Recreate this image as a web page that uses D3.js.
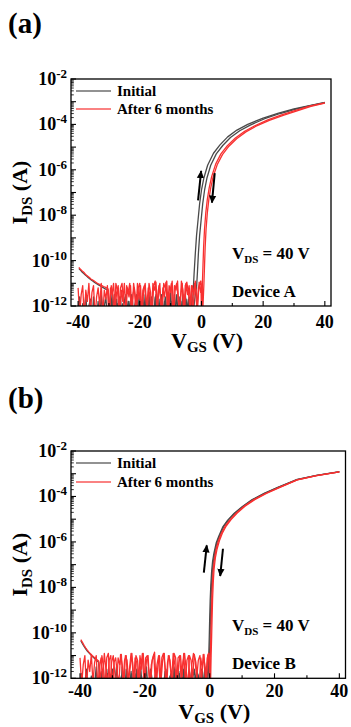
<!DOCTYPE html>
<html>
<head>
<meta charset="utf-8">
<script src="https://cdn.jsdelivr.net/npm/d3@7"></script>
<style>
  body { margin: 0; background: #fff; }
  svg { display: block; font-family: 'Liberation Serif', 'Times New Roman', serif; font-weight: bold; }
</style>
</head>
<body>
<svg id="chart" width="351" height="727"></svg>
<script>
// gate sweep grids in the off state (V)
const VG_FWD_OFF = [-40, -39.5, -39, -38.5, -38, -37.5, -37, -36.5, -36, -35.5, -35, -34.5, -34, -33.5, -33, -32.5, -32, -31.5, -31, -30.5,
  -30, -29.5, -29, -28.5, -28, -27.5, -27, -26.5, -26, -25.5, -25, -24.5, -24, -23.5, -23, -22.5, -22, -21.5, -21, -20.5,
  -20, -19.5, -19, -18.5, -18, -17.5, -17, -16.5, -16, -15.5, -15, -14.5, -14, -13.5, -13, -12.5, -12, -11.5, -11, -10.5,
  -10, -9.5, -9, -8.5, -8, -7.5, -7, -6.5, -6, -5.5, -5, -4.5, -4];
const VG_REV_OFF = [-39.75, -39.25, -38.75, -38.25, -37.75, -37.25, -36.75, -36.25, -35.75, -35.25, -34.75, -34.25, -33.75, -33.25, -32.75, -32.25, -31.75, -31.25, -30.75, -30.25,
  -29.75, -29.25, -28.75, -28.25, -27.75, -27.25, -26.75, -26.25, -25.75, -25.25, -24.75, -24.25, -23.75, -23.25, -22.75, -22.25, -21.75, -21.25, -20.75, -20.25,
  -19.75, -19.25, -18.75, -18.25, -17.75, -17.25, -16.75, -16.25, -15.75, -15.25, -14.75, -14.25, -13.75, -13.25, -12.75, -12.25, -11.75, -11.25, -10.75, -10.25,
  -9.75, -9.25, -8.75, -8.25, -7.75, -7.25, -6.75, -6.25, -5.75, -5.25, -4.75, -4.25, -3.75];

const Y_TICKS = [-12, -10, -8, -6, -4, -2]; // log10(I) labels
const X_TICKS = [-40, -20, 0, 20, 40];
const LEGEND = ['Initial', 'After 6 months'];

// ---- device A, log10(IDS / A) ----
const A_INIT_FWD_OFF = [-12.4, -11.6, -12.7, -11.9, -12.3, -11.5, -12.6, -12.0, -11.7, -12.8,
  -11.6, -12.2, -12.5, -11.8, -12.7, -11.5, -12.3, -12.0, -11.6, -12.6,
  -11.9, -12.4, -11.5, -12.8, -12.1, -11.7, -12.5, -11.6, -12.3, -11.9,
  -12.7, -11.5, -12.2, -11.8, -12.6, -11.6, -12.4, -12.0, -11.5, -12.7,
  -11.8, -12.3, -11.6, -12.5, -11.9, -12.8, -11.5, -12.2, -11.7, -12.6,
  -11.6, -12.4, -11.9, -12.7, -11.5, -12.3, -11.8, -12.5, -11.6, -12.2,
  -11.4, -12.6, -11.8, -12.3, -11.5, -12.7, -11.9, -12.1, -11.5, -12.5,
  -11.7, -12.4, -11.6];
const A_INIT_REV_OFF = [-10.35, -10.42, -10.5, -10.56, -10.62, -10.68, -10.74, -10.8, -10.85, -10.9,
  -10.95, -11.0, -11.04, -11.08, -11.12, -11.16, -11.2, -11.24, -11.28, -11.32,
  -12.5, -11.7, -12.2, -11.5, -12.7, -11.9, -12.4, -11.6, -12.8, -12.0,
  -11.6, -12.5, -11.8, -12.3, -11.5, -12.6, -12.1, -11.7, -12.7, -11.6,
  -12.3, -11.9, -12.5, -11.5, -12.8, -11.8, -12.2, -11.6, -12.6, -12.0,
  -11.5, -12.4, -11.7, -12.7, -11.9, -12.3, -11.6, -12.5, -11.4, -12.2,
  -11.8, -12.6, -11.5, -12.3, -12.0, -11.6, -12.7, -11.8, -12.4, -11.5,
  -12.2, -11.7, -12.5];
const A_AGED_FWD_OFF = [-11.2, -12.4, -11.5, -11.1, -12.6, -11.3, -11.8, -11.0, -12.3, -11.4,
  -11.1, -12.5, -11.6, -11.2, -12.0, -11.0, -12.4, -11.3, -11.7, -11.1,
  -12.6, -11.2, -11.5, -11.0, -12.2, -11.4, -11.1, -12.5, -11.3, -11.8,
  -11.0, -12.3, -11.2, -11.6, -11.1, -12.4, -11.0, -11.5, -12.1, -11.2,
  -11.0, -12.6, -11.3, -11.1, -11.7, -12.2, -11.0, -11.4, -12.5, -11.1,
  -10.9, -12.0, -11.3, -11.0, -12.4, -11.2, -11.6, -10.95, -12.3, -11.1,
  -11.4, -10.9, -12.5, -11.2, -11.0, -11.8, -12.2, -10.9, -11.3, -12.4,
  -11.0, -11.5, -11.1];
const A_AGED_REV_OFF = [-10.3, -10.38, -10.45, -10.5, -10.58, -10.65, -10.7, -10.76, -10.82, -10.86,
  -10.9, -10.95, -11.0, -11.03, -11.07, -11.1, -11.14, -11.17, -11.2, -11.25,
  -12.3, -11.1, -11.6, -12.5, -11.0, -11.3, -12.2, -11.2, -11.0, -11.9,
  -12.6, -11.1, -11.4, -11.0, -12.3, -11.5, -11.2, -12.4, -11.0, -11.7,
  -11.1, -12.5, -11.3, -11.0, -12.1, -11.2, -11.5, -12.6, -11.0, -11.3,
  -10.95, -12.2, -11.1, -11.6, -12.4, -11.0, -11.2, -10.9, -12.3, -11.4,
  -11.0, -12.5, -11.1, -11.3, -10.9, -12.2, -11.6, -11.0, -12.4, -11.1,
  -10.95, -11.4, -12.1];

const A_INIT_FWD_ON = [[-3.5, -11.9], [-3, -12.2], [-2.7, -11.4], [-2.4, -10.6], [-2.0, -9.7], [-1.6, -8.9], [-1.1, -8.2], [-0.6, -7.5], [0, -6.9], [0.8, -6.35], [2, -5.8], [3.9, -5.27], [6, -4.9], [8.5, -4.55], [11.5, -4.25], [15, -4.0], [20, -3.72], [25, -3.5], [30, -3.32], [35, -3.17], [40, -3.03]];
const A_INIT_REV_ON = [[-3.25, -11.6], [-2.75, -12.4], [-2.25, -11.8], [-2, -11.5], [-1.6, -11.2], [-1.3, -10.5], [-1.0, -9.7], [-0.6, -8.9], [-0.1, -8.2], [0.4, -7.5], [1.0, -6.9], [1.8, -6.35], [3.0, -5.8], [4.8, -5.3], [6.9, -4.93], [9.4, -4.58], [12.4, -4.28], [15.8, -4.03], [20.5, -3.75], [25.5, -3.52], [30.3, -3.34], [35, -3.18], [40, -3.04]];
const A_AGED_FWD_ON = [[-3.5, -12.1], [-3, -11.1], [-2.5, -11.5], [-2, -10.9], [-1.5, -12.2], [-1, -11.2], [-0.5, -11.0], [-0.2, -10.9], [0, -12.3], [0.3, -11.0], [0.5, -10.2], [0.7, -9.4], [1.0, -8.6], [1.4, -7.9], [1.9, -7.3], [2.5, -6.8], [3.3, -6.3], [4.6, -5.75], [6.3, -5.3], [8.4, -4.94], [11, -4.6], [14, -4.3], [17.3, -4.06], [21.5, -3.8], [26, -3.58], [30.5, -3.38], [35, -3.2], [40, -3.05]];
const A_AGED_REV_ON = [[-3.25, -11.1], [-2.75, -12.4], [-2.25, -11.0], [-1.75, -11.3], [-1.25, -12.1], [-0.75, -10.95], [-0.25, -11.4], [0.2, -11.0], [0.4, -12.3], [0.8, -11.0], [1.0, -10.2], [1.2, -9.4], [1.5, -8.6], [1.9, -7.9], [2.4, -7.3], [3.0, -6.8], [3.8, -6.3], [5.1, -5.78], [6.8, -5.33], [8.9, -4.96], [11.4, -4.63], [14.4, -4.33], [17.7, -4.08], [22, -3.82], [26.5, -3.6], [31, -3.4], [35.5, -3.21], [40, -3.06]];

// ---- device B ----
const B_INIT_FWD_OFF = [-12.6, -11.8, -12.8, -12.2, -11.6, -12.9, -12.4, -11.9, -12.7, -12.3,
  -11.5, -12.8, -12.1, -12.6, -11.7, -12.9, -12.3, -11.8, -12.5, -12.8,
  -11.6, -12.4, -12.7, -11.9, -12.2, -12.8, -11.5, -12.6, -12.3, -11.7,
  -12.9, -12.2, -11.8, -12.6, -12.4, -11.6, -12.8, -12.1, -11.9, -12.7,
  -12.3, -11.5, -12.6, -12.9, -11.8, -12.4, -12.2, -11.6, -12.7, -12.5,
  -11.7, -12.8, -12.0, -11.6, -12.6, -12.3, -11.8, -12.9, -11.5, -12.4,
  -12.1, -11.7, -12.7, -12.2, -11.6, -12.5, -12.8, -11.8, -12.3, -11.6,
  -12.6, -12.0, -11.7];
const B_INIT_REV_OFF = [-10.35, -10.48, -10.6, -10.7, -10.8, -10.88, -10.96, -11.03, -11.1, -11.16, -11.22, -11.3,
  -12.5, -11.7, -12.8, -12.1, -11.6, -12.6, -12.3, -11.8, -12.9, -12.2,
  -11.5, -12.7, -12.4, -11.9, -12.6, -12.8, -11.6, -12.3, -12.5, -11.7,
  -12.9, -12.1, -11.8, -12.6, -12.4, -11.5, -12.7, -12.2, -11.9, -12.8,
  -12.3, -11.6, -12.5, -12.7, -11.8, -12.2, -12.9, -11.6, -12.4, -12.6,
  -11.7, -12.3, -12.8, -11.9, -12.5, -12.1, -11.6, -12.7, -12.4, -11.8,
  -12.6, -12.2, -11.5, -12.8, -12.3, -11.7, -12.5, -12.0, -11.6, -12.4,
  -11.8];
const B_AGED_FWD_OFF = [-11.1, -12.3, -11.4, -11.0, -12.5, -11.2, -11.7, -10.95, -12.2, -11.3,
  -11.0, -12.4, -11.5, -11.1, -12.0, -10.9, -11.6, -12.3, -11.2, -11.0,
  -12.5, -11.3, -11.1, -11.8, -12.2, -10.95, -11.4, -12.4, -11.0, -11.2,
  -12.1, -11.5, -10.9, -12.3, -11.1, -11.3, -12.5, -11.0, -11.6, -10.9,
  -12.2, -11.2, -11.0, -12.4, -11.4, -11.1, -10.85, -12.3, -11.5, -11.0,
  -12.1, -11.2, -10.9, -12.5, -11.3, -11.0, -11.7, -12.2, -10.9, -11.1,
  -12.4, -11.3, -11.0, -11.9, -10.9, -12.2, -11.2, -11.0, -12.5, -11.4,
  -10.9, -11.2, -12.0];
const B_AGED_REV_OFF = [-10.3, -10.42, -10.55, -10.66, -10.76, -10.85, -10.93, -11.0, -11.06, -11.12, -11.18, -11.24,
  -12.2, -11.0, -11.5, -12.4, -11.1, -10.9, -12.3, -11.3, -11.0, -11.8,
  -12.5, -11.1, -11.4, -10.95, -12.2, -11.2, -11.0, -12.4, -11.6, -10.9,
  -11.3, -12.5, -11.0, -11.2, -12.1, -11.5, -10.9, -12.3, -11.1, -11.0,
  -11.7, -12.4, -11.2, -10.95, -12.2, -11.4, -11.0, -12.5, -11.1, -10.9,
  -11.5, -12.3, -11.0, -11.2, -12.1, -10.9, -11.4, -12.4, -11.1, -11.0,
  -12.2, -11.3, -10.9, -11.6, -12.5, -11.0, -11.2, -12.0, -10.95, -11.3,
  -12.3];

const B_INIT_FWD_ON = [[-3.5, -11.9], [-3, -12.4], [-2.5, -11.6], [-2, -12.6], [-1.5, -11.5], [-1, -12.2], [-0.6, -11.7], [-0.3, -11.1], [-0.15, -10.3], [0, -9.4], [0.15, -8.6], [0.35, -7.9], [0.6, -7.3], [0.9, -6.85], [1.3, -6.5], [2.0, -6.05], [2.8, -5.75], [4.0, -5.35], [5.5, -5.05], [7.5, -4.75], [10, -4.45], [13, -4.15], [16.8, -3.86], [21, -3.6], [27, -3.25], [33, -3.07], [40, -2.91]];
const B_INIT_REV_ON = [[-3.25, -12.1], [-2.75, -12.7], [-2.25, -11.7], [-1.75, -12.4], [-1.25, -11.6], [-0.75, -12.5], [-0.3, -11.5], [0.05, -10.6], [0.2, -9.6], [0.35, -8.8], [0.55, -8.0], [0.8, -7.35], [1.15, -6.85], [1.6, -6.45], [2.3, -6.0], [3.1, -5.72], [4.3, -5.33], [5.8, -5.03], [7.8, -4.74], [10.3, -4.44], [13.3, -4.14], [17, -3.86], [21, -3.61], [27, -3.26], [33, -3.07], [40, -2.92]];
const B_AGED_FWD_ON = [[-3.5, -11.2], [-3, -11.0], [-2.5, -12.2], [-2, -10.95], [-1.5, -11.4], [-1, -12.3], [-0.6, -11.0], [-0.3, -10.9], [0, -12.2], [0.2, -11.0], [0.35, -10.2], [0.5, -9.3], [0.65, -8.5], [0.85, -7.8], [1.1, -7.2], [1.5, -6.7], [2.0, -6.3], [2.7, -5.95], [3.6, -5.62], [4.8, -5.3], [6.3, -5.02], [8.2, -4.73], [10.6, -4.43], [13.6, -4.14], [17.2, -3.87], [21.3, -3.61], [27, -3.27], [33, -3.08], [40, -2.92]];
const B_AGED_REV_ON = [[-3.25, -12.4], [-2.75, -11.1], [-2.25, -11.6], [-1.75, -10.95], [-1.25, -12.2], [-0.75, -11.1], [-0.3, -10.9], [0.1, -11.3], [0.25, -12.4], [0.45, -11.0], [0.6, -10.2], [0.75, -9.3], [0.9, -8.5], [1.1, -7.8], [1.35, -7.2], [1.75, -6.7], [2.3, -6.3], [3.0, -5.95], [3.9, -5.62], [5.1, -5.3], [6.6, -5.02], [8.5, -4.73], [10.9, -4.43], [13.9, -4.14], [17.5, -3.87], [21.5, -3.61], [27, -3.27], [33, -3.08], [40, -2.92]];

// sweep direction arrows [V, log10 I] from -> to
const A_ARROWS = [[[-1.1, -7.35], [-0.1, -6.05]], [[4.3, -6.15], [3.4, -7.45]]];
const B_ARROWS = [[[-1.8, -7.35], [-0.9, -6.15]], [[4.1, -6.3], [3.25, -7.5]]];

const GRAY = '#4a4a4a';
const RED = '#f83030';

const zipOff = (vg, vals) => vals.map((v, i) => [vg[i], v]).filter(d => d[0] != null);

const svg = d3.select('#chart');

svg.append('defs').append('marker')
  .attr('id', 'head')
  .attr('viewBox', '0 0 10 10')
  .attr('refX', 9).attr('refY', 5)
  .attr('markerWidth', 4).attr('markerHeight', 4)
  .attr('markerUnits', 'strokeWidth')
  .attr('orient', 'auto')
  .append('path').attr('d', 'M0,0.5 L10,5 L0,9.5 z').attr('fill', '#000');

function drawPanel(p) {
  const g = svg.append('g');
  const x = d3.scaleLinear().domain(p.xDomain).range([p.left, p.right]);
  const y = d3.scaleLog().domain([1e-12, 1e-2]).range([p.bottom, p.top]);

  g.append('text').attr('x', 8).attr('y', p.tagY).attr('font-size', 29).text(p.tag);

  const clipId = 'clip' + p.tag.replace(/\W/g, '');
  svg.select('defs').append('clipPath').attr('id', clipId)
    .append('rect').attr('x', p.left).attr('y', p.top)
    .attr('width', p.right - p.left).attr('height', p.bottom - p.top);

  const line = d3.line().x(d => x(d[0])).y(d => y(Math.pow(10, d[1])));
  const curves = g.append('g').attr('clip-path', `url(#${clipId})`);
  p.series.forEach(s => {
    curves.append('path')
      .attr('fill', 'none')
      .attr('stroke', s.color)
      .attr('stroke-width', 1.3)
      .attr('stroke-linejoin', 'round')
      .attr('d', line(s.data));
  });

  // frame
  g.append('rect')
    .attr('x', p.left).attr('y', p.top)
    .attr('width', p.right - p.left).attr('height', p.bottom - p.top)
    .attr('fill', 'none').attr('stroke', '#000').attr('stroke-width', 1.3);

  // left axis ticks, inward
  d3.range(-12, -1).forEach(e => {
    const yy = y(Math.pow(10, e));
    g.append('line').attr('x1', p.left).attr('x2', p.left + 5).attr('y1', yy).attr('y2', yy)
      .attr('stroke', '#000').attr('stroke-width', 1.1);
    if (e < -2) {
      d3.range(2, 10).forEach(m => {
        const ym = y(m * Math.pow(10, e));
        g.append('line').attr('x1', p.left).attr('x2', p.left + 2.8).attr('y1', ym).attr('y2', ym)
          .attr('stroke', '#000').attr('stroke-width', 0.8);
      });
    }
  });
  Y_TICKS.forEach(e => {
    const t = g.append('text')
      .attr('x', p.left - 4).attr('y', y(Math.pow(10, e)) + 6)
      .attr('text-anchor', 'end').attr('font-size', 18);
    t.append('tspan').text('10');
    t.append('tspan').attr('font-size', 13).attr('dy', -7).text(String(e));
  });

  // bottom axis ticks
  d3.range(-40, 41, 10).forEach(v => {
    const major = X_TICKS.includes(v);
    g.append('line').attr('x1', x(v)).attr('x2', x(v))
      .attr('y1', p.bottom).attr('y2', p.bottom - (major ? 5 : 3))
      .attr('stroke', '#000').attr('stroke-width', 1.1);
  });
  X_TICKS.forEach(v => {
    g.append('text').attr('x', x(v)).attr('y', p.bottom + p.xLabelDy)
      .attr('text-anchor', 'middle').attr('font-size', 18).text(v);
  });

  // axis titles
  const xt = g.append('text')
    .attr('x', (p.left + p.right) / 2 + 6).attr('y', p.xTitleY)
    .attr('text-anchor', 'middle').attr('font-size', 22);
  xt.append('tspan').text('V');
  xt.append('tspan').attr('font-size', 15).attr('dy', 4).text('GS');
  xt.append('tspan').attr('dy', -4).text(' (V)');

  const yt = g.append('text')
    .attr('transform', `translate(27,${(p.top + p.bottom) / 2}) rotate(-90)`)
    .attr('text-anchor', 'middle').attr('font-size', 22);
  yt.append('tspan').text('I');
  yt.append('tspan').attr('font-size', 15).attr('dy', 5).text('DS');
  yt.append('tspan').attr('dy', -5).text(' (A)');

  // legend
  [GRAY, RED].forEach((c, i) => {
    const ly = p.legendY + i * p.legendGap;
    g.append('line').attr('x1', p.left + 5).attr('x2', p.left + 40).attr('y1', ly).attr('y2', ly)
      .attr('stroke', c).attr('stroke-width', 1.3).attr('opacity', 0.8);
    g.append('text').attr('x', p.left + 46).attr('y', ly + 5).attr('font-size', 15).text(LEGEND[i]);
  });

  // annotations
  const vds = g.append('text').attr('x', 232).attr('y', p.top + 180).attr('font-size', 17);
  vds.append('tspan').text('V');
  vds.append('tspan').attr('font-size', 11).attr('dy', 4).text('DS');
  vds.append('tspan').attr('dy', -4).text(' = 40 V');
  g.append('text').attr('x', 232).attr('y', p.top + 218).attr('font-size', 17).text(p.device);

  // sweep arrows
  p.arrows.forEach(a => {
    g.append('line')
      .attr('x1', x(a[0][0])).attr('y1', y(Math.pow(10, a[0][1])))
      .attr('x2', x(a[1][0])).attr('y2', y(Math.pow(10, a[1][1])))
      .attr('stroke', '#000').attr('stroke-width', 2)
      .attr('marker-end', 'url(#head)');
  });
}

drawPanel({
  tag: '(a)', tagY: 33, device: 'Device A',
  left: 71, right: 331, top: 79, bottom: 306, xDomain: [-42.3, 42],
  xLabelDy: 22, xTitleY: 348, legendY: 91, legendGap: 18,
  arrows: A_ARROWS,
  series: [
    { color: GRAY, data: zipOff(VG_FWD_OFF, A_INIT_FWD_OFF).concat(A_INIT_FWD_ON) },
    { color: GRAY, data: zipOff(VG_REV_OFF, A_INIT_REV_OFF).concat(A_INIT_REV_ON) },
    { color: RED, data: zipOff(VG_FWD_OFF, A_AGED_FWD_OFF).concat(A_AGED_FWD_ON) },
    { color: RED, data: zipOff(VG_REV_OFF, A_AGED_REV_OFF).concat(A_AGED_REV_ON) }
  ]
});

drawPanel({
  tag: '(b)', tagY: 408, device: 'Device B',
  left: 71, right: 345.5, top: 451, bottom: 678.3, xDomain: [-42.78, 41.9],
  xLabelDy: 19, xTitleY: 719, legendY: 463, legendGap: 19,
  arrows: B_ARROWS,
  series: [
    { color: GRAY, data: zipOff(VG_FWD_OFF, B_INIT_FWD_OFF).concat(B_INIT_FWD_ON) },
    { color: GRAY, data: zipOff(VG_REV_OFF, B_INIT_REV_OFF).concat(B_INIT_REV_ON) },
    { color: RED, data: zipOff(VG_FWD_OFF, B_AGED_FWD_OFF).concat(B_AGED_FWD_ON) },
    { color: RED, data: zipOff(VG_REV_OFF, B_AGED_REV_OFF).concat(B_AGED_REV_ON) }
  ]
});
</script>
</body>
</html>
